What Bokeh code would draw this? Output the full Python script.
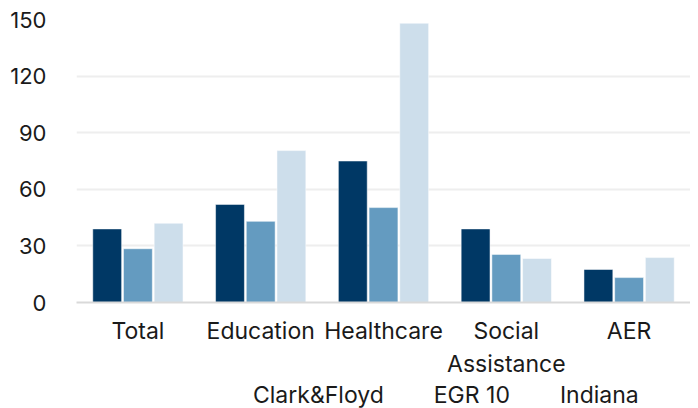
from bokeh.plotting import figure
from bokeh.layouts import column
from bokeh.models import ColumnDataSource, FactorRange, Range1d, FixedTicker, Legend, LegendItem
from bokeh.transform import dodge
from bokeh.embed import file_html
from bokeh.resources import INLINE

categories = ["Total", "Education", "Healthcare", "Social\nAssistance", "AER"]
clark_floyd = [39, 52, 75, 39, 17.5]
egr10 = [28.5, 43, 50.3, 25.5, 13.2]
indiana = [42, 80.5, 148, 23.3, 23.8]
series_names = ["Clark&Floyd", "EGR 10", "Indiana"]
colors = ["#003865", "#649bc0", "#cddeeb"]
y_ticks = [0, 30, 60, 90, 120, 150]

src = ColumnDataSource(dict(cat=categories, c=clark_floyd, e=egr10, i=indiana))

FONT = "Inter"
p = figure(x_range=FactorRange(*categories), y_range=Range1d(0, 150),
           frame_width=614, frame_height=283, output_backend="svg", toolbar_location=None,
           min_border_left=76, min_border_right=0, min_border_top=19, min_border_bottom=78)
p.outline_line_color = None

for key, off, col in zip(["c", "e", "i"], [-0.25, 0.0, 0.25], colors):
    p.vbar(x=dodge("cat", off, range=p.x_range), top=key, width=0.235, source=src,
           fill_color=col, line_color="white", line_alpha=0.5, line_width=1)

p.yaxis.ticker = FixedTicker(ticks=y_ticks)
p.yaxis.axis_line_color = None
p.yaxis.major_tick_line_color = None
p.yaxis.minor_tick_line_color = None
p.yaxis.major_label_text_font = FONT
p.yaxis.major_label_text_font_size = "22px"
p.yaxis.major_label_text_color = "#1a1a1a"
p.yaxis.major_label_standoff = 24

p.xaxis.axis_line_color = "#d9d9d9"
p.xaxis.axis_line_width = 2
p.xaxis.major_tick_line_color = None
p.xaxis.minor_tick_line_color = None
p.xaxis.major_label_text_font = FONT
p.xaxis.major_label_text_font_size = "23px"
p.xaxis.major_label_text_color = "#1a1a1a"
p.xaxis.major_label_standoff = 8

p.xgrid.grid_line_color = None
p.ygrid.grid_line_color = "#eeeeee"
p.ygrid.grid_line_width = 2

# legend strip below the chart
p2 = figure(width=690, height=28, output_backend="svg", toolbar_location=None,
            x_range=Range1d(0, 1), y_range=Range1d(0, 1),
            x_axis_type=None, y_axis_type=None, min_border=0)
p2.outline_line_color = None
p2.xgrid.grid_line_color = None
p2.ygrid.grid_line_color = None
dummy = []
for col in colors:
    r = p2.vbar(x=[], top=[], width=0.1, fill_color=col, line_color="white", line_alpha=0.5)
    dummy.append(r)

legend = Legend(items=[LegendItem(label=n, renderers=[r]) for n, r in zip(series_names, dummy)],
                orientation="horizontal", location=(157, 0),
                label_text_font=FONT, label_text_font_size="23px", label_text_color="#1a1a1a",
                glyph_width=11, glyph_height=11, spacing=30, label_standoff=9,
                border_line_color=None, background_fill_alpha=0, padding=0, margin=0)
p2.add_layout(legend, "center")

layout = column(p, p2, spacing=0)
open("out.html", "w").write(file_html(layout, INLINE))
